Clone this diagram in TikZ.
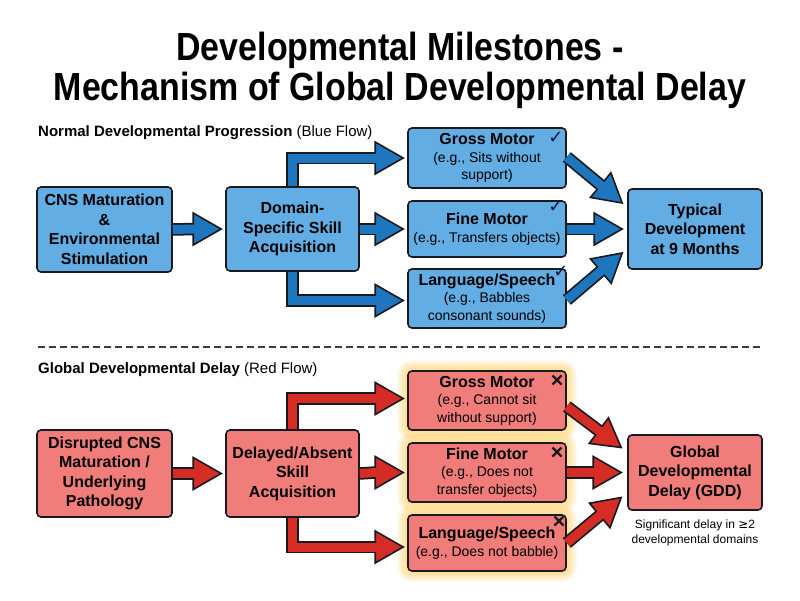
\documentclass[tikz,border=0pt]{standalone}
\usepackage{fontspec}
\setmainfont{Liberation Sans}
\newfontfamily\symfont{DejaVu Sans}
\usetikzlibrary{calc,backgrounds}
\definecolor{bfill}{RGB}{98,174,228}
\definecolor{barrow}{RGB}{30,118,190}
\definecolor{rfill}{RGB}{240,125,122}
\definecolor{rarrow}{RGB}{214,44,38}
\definecolor{edge}{RGB}{25,25,30}
\definecolor{glow}{RGB}{255,205,80}

\tikzset{
 box/.style={draw=edge, line width=1.6pt, rounded corners=4pt, align=center, inner sep=2pt},
 bbox/.style={box, fill=bfill},
 rbox/.style={box, fill=rfill},
 bigtxt/.style={font=\bfseries\fontsize{16}{19.5}\selectfont},
 subtxt/.style={font=\fontsize{14}{17.5}\selectfont},
 hdr/.style={anchor=west, inner sep=0pt, font=\fontsize{15}{18}\selectfont},
 tick/.style={inner sep=0pt, text=edge!90!blue, font=\symfont\fontsize{18}{18}\selectfont},
 crossline/.style={draw=edge, line width=2.3pt},
}
\newcommand{\ttl}[1]{{\fontsize{16}{17.5}\selectfont\bfseries #1}}
\newcommand{\crossmark}[1]{%
 \draw[crossline] ($(#1)+(-4.5,-4.5)$) -- ($(#1)+(4.5,4.5)$);
 \draw[crossline] ($(#1)+(-4.5,4.5)$) -- ($(#1)+(4.5,-4.5)$);
}

% #1 colour, #2 shaft path ending at base, #3 base, #4 tip
\newcommand{\fatarrow}[4]{%
 \draw[line width=12.5pt, edge] #2;
 \filldraw[fill=#1, draw=edge, line width=1.6pt, line join=miter] ($(#3)!16pt!90:(#4)$) -- (#4) -- ($(#3)!16pt!-90:(#4)$) -- cycle;
 \draw[line width=9pt, #1] #2 -- ($(#3)!2.5pt!(#4)$);
}

\begin{document}
\begin{tikzpicture}[x=1pt, y=-1pt]
\useasboundingbox (0,0) rectangle (800,600);
\begin{scope}[on background layer]
\fill[white] (0,0) rectangle (800,600);
\end{scope}

% Title
\node[inner sep=0pt, font=\bfseries\fontsize{35}{40}\selectfont, align=center] (title) at (400,70)
 {\scalebox{0.97}[1.12]{Developmental Milestones -}\\\scalebox{0.97}[1.12]{Mechanism of Global Developmental Delay}};

% ---------------- Blue flow ----------------
\node[hdr] (hb) at (38,133) {\textbf{Normal Developmental Progression} (Blue Flow)};

\node[bbox, bigtxt, minimum width=135pt, minimum height=85pt] (cns) at (104.5,229.5)
 {CNS Maturation\\\&\\Environmental\\Stimulation};
\node[bbox, bigtxt, minimum width=133pt, minimum height=84pt] (dom) at (292.5,229)
 {Domain-\\Specific Skill\\Acquisition};
\node[bbox, subtxt, minimum width=158pt, minimum height=60pt] (gmb) at (487,158)
 {\ttl{Gross Motor}\\(e.g., Sits without\\support)};
\node[bbox, subtxt, minimum width=158pt, minimum height=56pt] (fmb) at (487,229)
 {\ttl{Fine Motor}\\(e.g., Transfers objects)};
\node[bbox, subtxt, minimum width=158pt, minimum height=59pt] (lsb) at (487,298.5)
 {\ttl{Language/Speech}\\(e.g., Babbles\\consonant sounds)};
\node[bbox, bigtxt, minimum width=134pt, minimum height=80pt] (typ) at (695,229)
 {Typical\\Development\\at 9 Months};

\node[tick] (c1) at (556,138) {✓};
\node[tick] (c2) at (556,207) {✓};
\node[tick] (c3) at (561,272) {✓};

% blue arrows
\coordinate (a1t) at ($(dom.west)+(-4,0)$);   \coordinate (a1b) at ($(a1t)+(-28,0)$);
\coordinate (a2t) at ($(gmb.west)+(-4,0)$);   \coordinate (a2b) at ($(a2t)+(-28,0)$);
\coordinate (a3t) at ($(fmb.west)+(-4,0)$);   \coordinate (a3b) at ($(a3t)+(-28,0)$);
\coordinate (a4t) at ($(lsb.west)+(-4,2)$);   \coordinate (a4b) at ($(a4t)+(-28,0)$);
\fatarrow{barrow}{(cns.east) -- (a1b)}{a1b}{a1t}
\fatarrow{barrow}{(dom.north) |- (a2b)}{a2b}{a2t}
\fatarrow{barrow}{(dom.east) -- (a3b)}{a3b}{a3t}
\fatarrow{barrow}{(dom.south) |- (a4b)}{a4b}{a4t}

\coordinate (d1s) at ($(gmb.east)+(0,-1)$);   \coordinate (d1t) at ($(typ.west)+(-5,-26)$);
\coordinate (d1b) at ($(d1t)!28pt!(d1s)$);
\coordinate (d2s) at (fmb.east);              \coordinate (d2t) at ($(typ.west)+(-5,0)$);
\coordinate (d2b) at ($(d2t)!28pt!(d2s)$);
\coordinate (d3s) at ($(lsb.east)+(0,1.5)$);  \coordinate (d3t) at ($(typ.west)+(-5,24)$);
\coordinate (d3b) at ($(d3t)!28pt!(d3s)$);
\fatarrow{barrow}{(d1s) -- (d1b)}{d1b}{d1t}
\fatarrow{barrow}{(d2s) -- (d2b)}{d2b}{d2t}
\fatarrow{barrow}{(d3s) -- (d3b)}{d3b}{d3t}

% separator
\draw[edge!85, line width=1.8pt, dash pattern=on 7pt off 4pt] (38,347) -- (762,347);

% ---------------- Red flow ----------------
\node[hdr] (hr) at (38,370) {\textbf{Global Developmental Delay} (Red Flow)};

\node[rbox, bigtxt, minimum width=135pt, minimum height=87pt] (dis) at (104.5,473.5)
 {Disrupted CNS\\Maturation /\\Underlying\\Pathology};
\node[rbox, bigtxt, minimum width=133pt, minimum height=87pt] (del) at (292.5,473.5)
 {Delayed/Absent\\Skill\\Acquisition};
\node[rbox, subtxt, minimum width=158pt, minimum height=59pt] (gmr) at (487,400.5)
 {\ttl{Gross Motor}\\(e.g., Cannot sit\\without support)};
\node[rbox, subtxt, minimum width=158pt, minimum height=59pt] (fmr) at (487,472.5)
 {\ttl{Fine Motor}\\(e.g., Does not\\transfer objects)};
\node[rbox, subtxt, minimum width=158pt, minimum height=56pt] (lsr) at (487,543)
 {\ttl{Language/Speech}\\(e.g., Does not babble)};
\node[rbox, bigtxt, minimum width=134pt, minimum height=75pt] (gdd) at (695,472.5)
 {Global\\Developmental\\Delay (GDD)};
\node[inner sep=0pt, align=center, font=\fontsize{12}{15}\selectfont] (note) at (695,533)
 {Significant delay in {\symfont ≥}2\\developmental domains};

\begin{scope}[on background layer]
\foreach \n in {gmr,fmr,lsr}{
 \foreach \k in {1,...,10}{
  \fill[glow, opacity=0.075, rounded corners=4+\k] ($(\n.north west)+(-\k,-\k)$) rectangle ($(\n.south east)+(\k,\k)$);
 }
}
\end{scope}

\coordinate (x1) at (557,380);
\coordinate (x2) at (557,452);
\coordinate (x3) at (559,521);
\crossmark{x1}
\crossmark{x2}
\crossmark{x3}

% red arrows
\coordinate (r1t) at ($(del.west)+(-4,0)$);   \coordinate (r1b) at ($(r1t)+(-28,0)$);
\coordinate (r2t) at ($(gmr.west)+(-4,-2)$);  \coordinate (r2b) at ($(r2t)+(-28,0)$);
\coordinate (r3t) at ($(fmr.west)+(-4,0)$);   \coordinate (r3b) at ($(r3t)+(-28,0)$);
\coordinate (r4t) at ($(lsr.west)+(-4,4)$);   \coordinate (r4b) at ($(r4t)+(-28,0)$);
\fatarrow{rarrow}{(dis.east) -- (r1b)}{r1b}{r1t}
\fatarrow{rarrow}{(del.north) |- (r2b)}{r2b}{r2t}
\fatarrow{rarrow}{(del.east) -- (r3b)}{r3b}{r3t}
\fatarrow{rarrow}{(del.south) |- (r4b)}{r4b}{r4t}

\coordinate (e1s) at ($(gmr.east)+(0,6)$);    \coordinate (e1t) at ($(gdd.west)+(-6,-25)$);
\coordinate (e1b) at ($(e1t)!28pt!(e1s)$);
\coordinate (e2s) at (fmr.east);              \coordinate (e2t) at ($(gdd.west)+(-6,0)$);
\coordinate (e2b) at ($(e2t)!28pt!(e2s)$);
\coordinate (e3s) at (lsr.east);              \coordinate (e3t) at ($(gdd.west)+(-6,25)$);
\coordinate (e3b) at ($(e3t)!28pt!(e3s)$);
\fatarrow{rarrow}{(e1s) -- (e1b)}{e1b}{e1t}
\fatarrow{rarrow}{(e2s) -- (e2b)}{e2b}{e2t}
\fatarrow{rarrow}{(e3s) -- (e3b)}{e3b}{e3t}
\end{tikzpicture}
\end{document}
